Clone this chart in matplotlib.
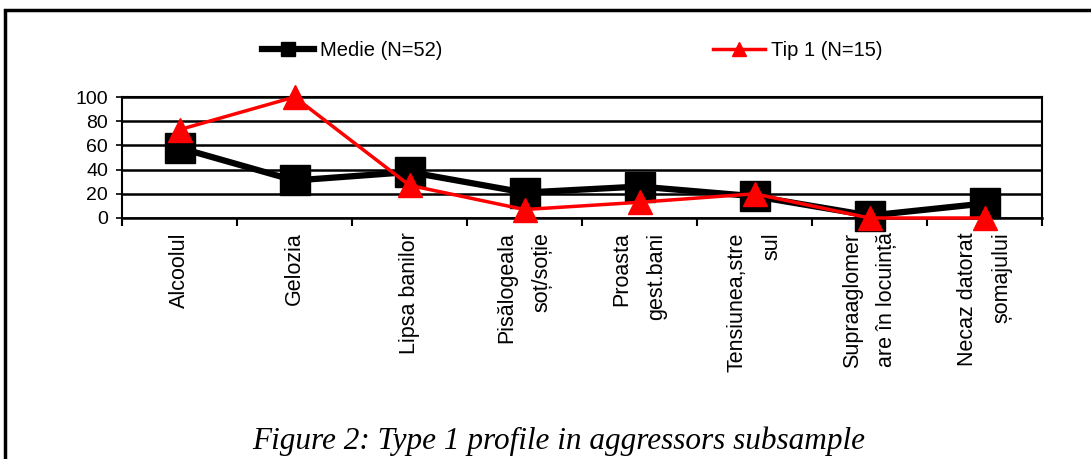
import matplotlib
matplotlib.use('Agg')
import matplotlib.pyplot as plt
from matplotlib.lines import Line2D
from matplotlib.patches import Rectangle

categories = ['Alcoolul', 'Gelozia', 'Lipsa banilor', 'Pisălogeala\nsoț/soție',
              'Proasta\ngest.bani', 'Tensiunea,stre\nsul', 'Supraaglomer\nare în locuință',
              'Necaz datorat\nșomajului']
medie = [58, 31, 38, 21, 26, 18, 2, 12]
tip1 = [73, 100, 27, 7, 13, 20, 0, 0]

plt.rcParams['font.family'] = ['Liberation Sans', 'DejaVu Sans']

fig = plt.figure(figsize=(10.91, 4.59), dpi=100)
ax = fig.add_axes([122/1091, 1-218/459, 920/1091, 121/459])

x = [i + 0.5 for i in range(len(categories))]
ax.plot(x, medie, color='black', lw=4.5, marker='s', ms=21, zorder=3, clip_on=False)
ax.plot(x, tip1, color='red', lw=2.5, marker='^', ms=17, zorder=4, clip_on=False)

ax.set_xlim(0, len(categories))
ax.set_ylim(0, 100)
ax.set_yticks([0, 20, 40, 60, 80, 100])
ax.tick_params(axis='y', labelsize=14, length=4, width=1.2, pad=6)
ax.set_xticks(range(len(categories) + 1))
ax.set_xticklabels([])
ax.tick_params(axis='x', length=6, width=1.5, direction='out')
ax.yaxis.grid(True, color='black', lw=1.8)
ax.set_axisbelow(True)
for s in ax.spines.values():
    s.set_linewidth(1.5)
ax.spines['bottom'].set_linewidth(1.8)

for xi, lab in zip(x, categories):
    ax.text(xi, -12, lab, rotation=90, ha='center', va='top', multialignment='right',
            fontsize=15.5, transform=ax.transData, linespacing=1.85)

h1 = Line2D([], [], color='black', lw=4.5, marker='s', ms=10)
h2 = Line2D([], [], color='red', lw=2.5, marker='^', ms=10)
fig.legend([h1], ['Medie (N=52)'], loc='center', bbox_to_anchor=(352/1091, 1-51/459),
           frameon=False, fontsize=14.5, handlelength=2.6, handletextpad=0.3)
fig.legend([h2], ['Tip 1 (N=15)'], loc='center', bbox_to_anchor=(798/1091, 1-51/459),
           frameon=False, fontsize=14.5, handlelength=2.6, handletextpad=0.3)

fig.text(559/1091, 1-441/459, 'Figure 2: Type 1 profile in aggressors subsample',
         ha='center', va='center', fontsize=22.5, style='italic',
         family=['Liberation Serif', 'DejaVu Serif'])

fig.patches.append(Rectangle((5/1091, -0.1), 1.2, 1.1 - 10/459,
                             transform=fig.transFigure, fill=False, lw=2.5, ec='black'))

fig.savefig('out.png', dpi=100)
